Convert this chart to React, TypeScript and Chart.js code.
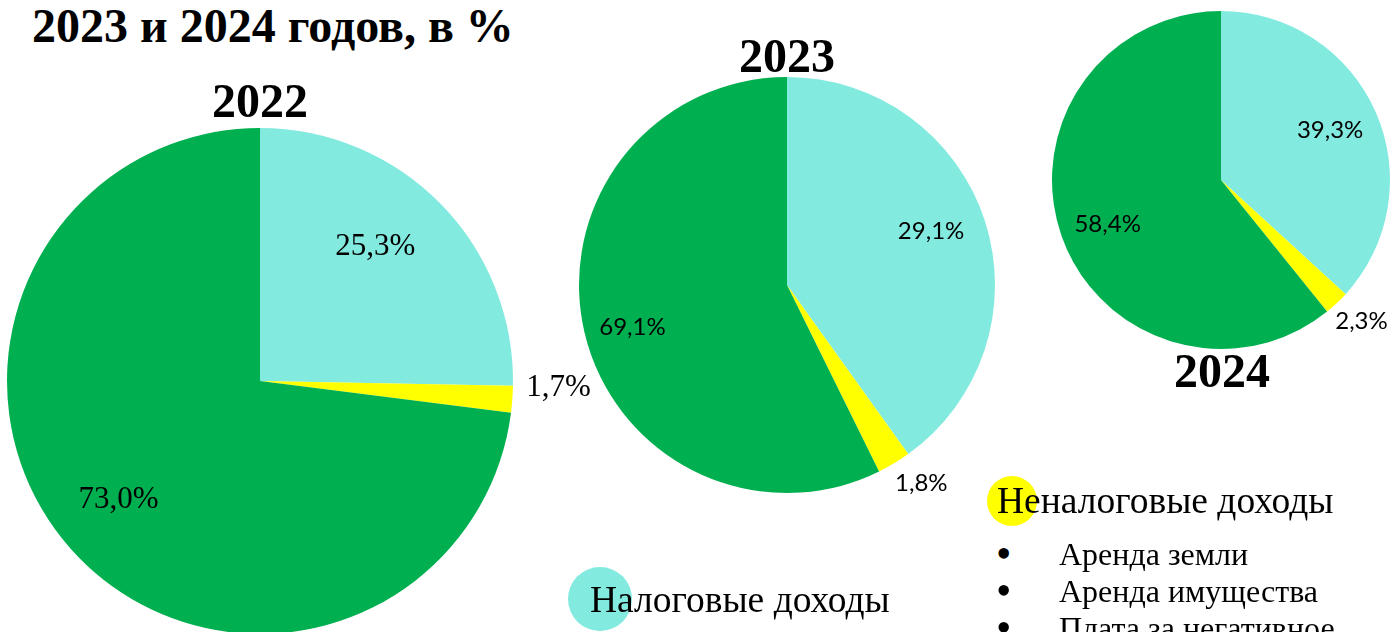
import React, { useEffect, useRef } from 'react';
import { Chart, registerables } from 'chart.js';

Chart.register(...registerables);

// ---------- data ----------
const categories = ['Налоговые доходы', 'Неналоговые доходы', 'Безвозмездные поступления'];
const sliceColors = ['#83EADF', '#FFFF00', '#00B050'];
// slice shares as drawn in the picture
const shares2022 = [25.3, 1.7, 73.0];
const shares2023 = [40.1, 2.6, 57.3];
const shares2024 = [36.8, 2.4, 60.8];
// slice label texts as printed in the picture
const labels2022 = ['25,3%', '1,7%', '73,0%'];
const labels2023 = ['29,1%', '1,8%', '69,1%'];
const labels2024 = ['39,3%', '2,3%', '58,4%'];
const yearTitles = ['2022', '2023', '2024'];
const chartTitle = '2023 и 2024 годов, в %';
const legendTax = 'Налоговые доходы';
const legendNonTax = 'Неналоговые доходы';
const nonTaxItems = ['Аренда земли', 'Аренда имущества', 'Плата за негативное'];

const SERIF = "'Liberation Serif', 'Times New Roman', serif";
const SANS = "Lato, 'Open Sans', sans-serif";

type LabelPos = { r: number; da: number };

function Pie(props: {
  values: number[];
  texts: string[];
  font: string;
  left: number;
  top: number;
  width: number;
  height: number;
  padding: { left: number; right: number; top: number; bottom: number };
  labelPos: LabelPos[];
}) {
  const ref = useRef<HTMLCanvasElement>(null);
  useEffect(() => {
    const { values, texts, font, padding, labelPos } = props;
    const labelPlugin = {
      id: 'sliceLabels',
      afterDatasetsDraw(chart: any) {
        const ctx = chart.ctx as CanvasRenderingContext2D;
        const meta = chart.getDatasetMeta(0);
        ctx.save();
        ctx.font = font;
        ctx.fillStyle = '#000000';
        ctx.textAlign = 'center';
        ctx.textBaseline = 'middle';
        meta.data.forEach((arc: any, i: number) => {
          const p = arc.getProps(['x', 'y', 'startAngle', 'endAngle', 'outerRadius'], true);
          const a = (p.startAngle + p.endAngle) / 2 + (labelPos[i].da * Math.PI) / 180;
          const r = p.outerRadius * labelPos[i].r;
          ctx.fillText(texts[i], p.x + Math.cos(a) * r, p.y + Math.sin(a) * r);
        });
        ctx.restore();
      },
    };
    const chart = new Chart(ref.current as HTMLCanvasElement, {
      type: 'pie',
      data: {
        labels: categories,
        datasets: [
          {
            data: values,
            backgroundColor: sliceColors,
            borderWidth: 0,
            hoverBorderWidth: 0,
            offset: 0,
            hoverOffset: 0,
          } as any,
        ],
      },
      options: {
        responsive: false,
        animation: false,
        events: [],
        layout: { padding },
        plugins: {
          legend: { display: false },
          tooltip: { enabled: false },
          title: { display: false },
        },
      },
      plugins: [labelPlugin],
    });
    return () => chart.destroy();
  }, []);
  return (
    <canvas
      ref={ref}
      width={props.width}
      height={props.height}
      style={{ position: 'absolute', left: props.left, top: props.top, width: props.width, height: props.height }}
    />
  );
}

function Txt(props: {
  x: number;
  baseline: number;
  size: number;
  bold?: boolean;
  center?: boolean;
  children: React.ReactNode;
}) {
  const { x, baseline, size, bold, center } = props;
  return (
    <div
      style={{
        position: 'absolute',
        left: x,
        top: baseline - 0.8375 * size,
        fontFamily: SERIF,
        fontSize: size,
        lineHeight: `${size}px`,
        fontWeight: bold ? 700 : 400,
        whiteSpace: 'nowrap',
        color: '#000',
        transform: center ? 'translateX(-50%)' : undefined,
      }}
    >
      {props.children}
    </div>
  );
}

function Dot(props: { cx: number; cy: number; r: number; color: string }) {
  return (
    <div
      style={{
        position: 'absolute',
        left: props.cx - props.r,
        top: props.cy - props.r,
        width: props.r * 2,
        height: props.r * 2,
        borderRadius: '50%',
        background: props.color,
      }}
    />
  );
}

export default function App() {
  return (
    <div
      style={{
        position: 'fixed',
        left: 0,
        top: 0,
        width: 1394,
        height: 632,
        overflow: 'hidden',
        background: '#ffffff',
      }}
    >
      <Pie
        values={shares2022}
        texts={labels2022}
        font={`31px ${SERIF}`}
        left={0}
        top={120}
        width={620}
        height={520}
        padding={{ left: 7, right: 107, top: 8, bottom: 6 }}
        labelPos={[
          { r: 0.7, da: -4.9 },
          { r: 1.18, da: -2.8 },
          { r: 0.73, da: 1.4 },
        ]}
      />
      <Pie
        values={shares2023}
        texts={labels2023}
        font={`24px ${SANS}`}
        left={560}
        top={60}
        width={460}
        height={460}
        padding={{ left: 19, right: 25, top: 17, bottom: 27 }}
        labelPos={[
          { r: 0.74, da: -2.8 },
          { r: 1.15, da: -3.2 },
          { r: 0.77, da: -2.1 },
        ]}
      />
      <Pie
        values={shares2024}
        texts={labels2024}
        font={`24px ${SANS}`}
        left={1030}
        top={0}
        width={364}
        height={380}
        padding={{ left: 22, right: 4, top: 11, bottom: 31 }}
        labelPos={[
          { r: 0.71, da: -0.8 },
          { r: 1.18, da: -1.6 },
          { r: 0.72, da: -1.9 },
        ]}
      />

      <Txt x={32} baseline={42} size={48} bold>
        {chartTitle}
      </Txt>
      <Txt x={260} baseline={117} size={48} bold center>
        {yearTitles[0]}
      </Txt>
      <Txt x={787} baseline={72} size={48} bold center>
        {yearTitles[1]}
      </Txt>
      <Txt x={1222} baseline={387} size={48} bold center>
        {yearTitles[2]}
      </Txt>

      <Dot cx={600} cy={599} r={32} color={sliceColors[0]} />
      <Txt x={590} baseline={612} size={37.5}>
        {legendTax}
      </Txt>

      <Dot cx={1012} cy={501} r={25} color={sliceColors[1]} />
      <Txt x={997} baseline={513} size={37.5}>
        {legendNonTax}
      </Txt>
      {nonTaxItems.map((item, i) => (
        <React.Fragment key={item}>
          <Txt x={996} baseline={569 + i * 37} size={44}>
            {'•'}
          </Txt>
          <Txt x={1059} baseline={565 + i * 37} size={32}>
            {item}
          </Txt>
        </React.Fragment>
      ))}
    </div>
  );
}
